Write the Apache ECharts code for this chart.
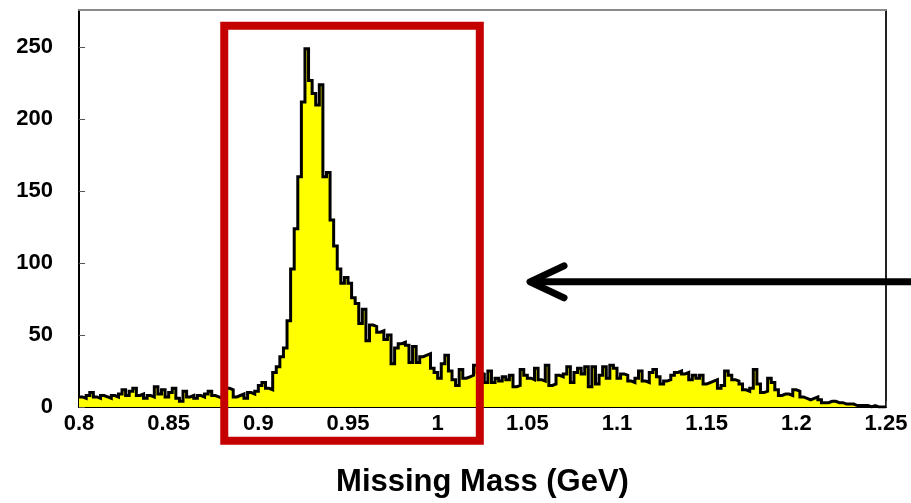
<!DOCTYPE html>
<html>
<head>
<meta charset="utf-8">
<script src="https://cdn.jsdelivr.net/npm/echarts@6/dist/echarts.min.js"></script>
<style>
  html, body { margin: 0; padding: 0; background: #fff; }
  #chart { width: 911px; height: 503px; }
</style>
</head>
<body>
<div id="chart"></div>
<script>
// Missing-mass histogram: 2 MeV bins from 0.80 to 1.25 GeV
const binStart = 0.8;
const binWidth = 0.002;
const counts = [
  7, 6, 8, 10, 7, 6, 8, 7, 6, 8,
  7, 9, 12, 8, 11, 13, 8, 9, 6, 8,
  7, 14, 9, 12, 7, 10, 13, 6, 4, 11,
  7, 8, 6, 8, 7, 9, 11, 8, 7, 6,
  9, 13, 12, 7, 8, 9, 6, 10, 9, 11,
  15, 17, 13, 12, 24, 28, 35, 41, 60, 96,
  124, 160, 212, 249, 227, 218, 210, 224, 160, 163,
  130, 112, 96, 86, 90, 86, 76, 72, 58, 68,
  46, 57, 56, 52, 53, 47, 50, 30, 41, 44,
  45, 43, 31, 42, 31, 35, 36, 37, 27, 24,
  20, 30, 36, 25, 19, 15, 26, 20, 21, 22,
  29, 24, 23, 17, 25, 17, 20, 18, 21, 19,
  22, 14, 15, 26, 22, 20, 19, 27, 19, 18,
  29, 15, 16, 22, 21, 23, 28, 17, 24, 27,
  23, 28, 14, 28, 16, 22, 28, 20, 29, 27,
  20, 23, 22, 18, 17, 20, 25, 18, 17, 24,
  26, 21, 16, 18, 19, 22, 24, 25, 23, 24,
  19, 22, 20, 22, 16, 17, 18, 19, 13, 15,
  25, 22, 19, 18, 16, 12, 11, 13, 26, 16,
  10, 11, 20, 17, 12, 8, 9, 9, 8, 12,
  11, 7, 6, 5, 6, 7, 5, 3, 3, 4,
  4, 3, 3, 2, 2, 2, 1, 1, 1, 1,
  0, 1, 0, 0, 0
];

// axis ranges
const xRange = [0.8, 1.25];
const xStep = 0.05;
const yRange = [0, 276];
const yStep = 50;
const xTitle = 'Missing Mass (GeV)';

// selection window (GeV, counts) and arrow tip (GeV, counts)
const windowBox = { x0: 0.881, x1: 1.0235, y0: -23.5, y1: 265 };
const arrowTip = [1.0515, 87];

const FONT = "'Liberation Sans', Arial, Helvetica, sans-serif";

// step outline: each point marks a bin's left edge, plus the closing edge
const stepData = counts.map((c, i) => [binStart + i * binWidth, c]);
stepData.push([binStart + counts.length * binWidth, counts[counts.length - 1]]);

const chart = echarts.init(document.getElementById('chart'), null, { renderer: 'canvas' });

const option = {
  backgroundColor: '#ffffff',
  animation: false,
  grid: {
    left: 79, right: 25, top: 10, bottom: 96,
    containLabel: false, outerBoundsMode: 'none',
    show: false
  },
  xAxis: [
    {
      type: 'value', min: xRange[0], max: xRange[1], interval: xStep,
      position: 'bottom',
      splitLine: { show: false },
      axisLine: { show: true, onZero: false, lineStyle: { color: '#000', width: 2 } },
      axisTick: { show: true, inside: true, length: 6, lineStyle: { color: '#555', width: 1 } },
      axisLabel: { color: '#000', fontFamily: FONT, fontWeight: 'bold', fontSize: 22, margin: 6 },
      name: xTitle, nameLocation: 'middle', nameGap: 60,
      nameTextStyle: { color: '#000', fontFamily: FONT, fontWeight: 'bold', fontSize: 31 }
    },
    {
      type: 'value', min: xRange[0], max: xRange[1], position: 'top',
      splitLine: { show: false }, axisTick: { show: false }, axisLabel: { show: false },
      axisLine: { show: true, onZero: false, lineStyle: { color: '#8a8a8a', width: 2 } }
    }
  ],
  yAxis: [
    {
      type: 'value', min: yRange[0], max: yRange[1], interval: yStep,
      position: 'left',
      splitLine: { show: false },
      axisLine: { show: true, onZero: false, lineStyle: { color: '#000', width: 2 } },
      axisTick: { show: true, inside: true, length: 6, lineStyle: { color: '#555', width: 1 } },
      axisLabel: { color: '#000', fontFamily: FONT, fontWeight: 'bold', fontSize: 22, margin: 26, showMaxLabel: false }
    },
    {
      type: 'value', min: yRange[0], max: yRange[1], position: 'right',
      splitLine: { show: false }, axisTick: { show: false }, axisLabel: { show: false },
      axisLine: { show: true, onZero: false, lineStyle: { color: '#222', width: 2 } }
    }
  ],
  series: [
    {
      type: 'line',
      xAxisIndex: 0, yAxisIndex: 0,
      data: stepData,
      step: 'end',
      symbol: 'none',
      showSymbol: false,
      sampling: null,
      lineStyle: { color: '#000', width: 3, join: 'miter' },
      areaStyle: { color: '#ffff00', opacity: 1 },
      z: 2
    }
  ]
};

chart.setOption(option);

// annotations placed through the axes' own coordinate conversion
const toPx = (p) => chart.convertToPixel({ xAxisIndex: 0, yAxisIndex: 0 }, p);
const b0 = toPx([windowBox.x0, windowBox.y1]);
const b1 = toPx([windowBox.x1, windowBox.y0]);
const tip = toPx(arrowTip);
const canvasW = chart.getWidth();

chart.setOption({
  graphic: [
    {
      type: 'rect', z: 10,
      shape: { x: b0[0], y: b0[1], width: b1[0] - b0[0], height: b1[1] - b0[1] },
      style: { fill: 'none', stroke: '#c40000', lineWidth: 8 }
    },
    {
      type: 'line', z: 10,
      shape: { x1: tip[0] + 3, y1: tip[1], x2: canvasW + 5, y2: tip[1] },
      style: { stroke: '#000', lineWidth: 7 }
    },
    {
      type: 'polyline', z: 10,
      shape: { points: [[tip[0] + 34, tip[1] - 16], [tip[0], tip[1]], [tip[0] + 34, tip[1] + 16]] },
      style: { fill: 'none', stroke: '#000', lineWidth: 7, lineCap: 'round', lineJoin: 'round' }
    }
  ]
});
</script>
</body>
</html>
